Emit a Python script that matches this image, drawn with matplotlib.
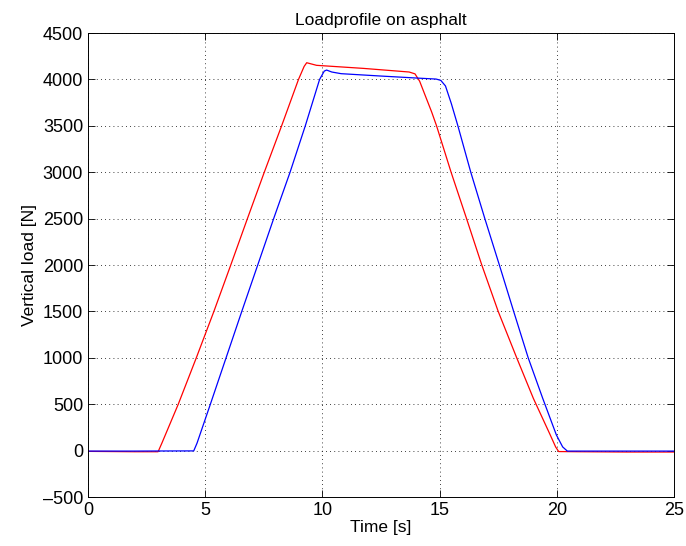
import numpy as np
import matplotlib
matplotlib.use("Agg")
import matplotlib.pyplot as plt

plt.rcParams['font.family'] = ['Liberation Sans', 'DejaVu Sans']

# front wheel (red) load trace, time [s] vs vertical load [N]
t_red = [0.0, 1.0, 2.0, 2.99, 3.15, 3.85, 4.62, 5.37, 6.09, 6.80, 7.52, 8.26, 8.98,
         9.22, 9.33, 9.75, 11.75, 13.70, 13.95, 14.15, 14.35, 14.66, 14.87, 15.49,
         16.15, 16.80, 17.50, 18.29, 19.00, 19.70, 19.95, 20.08, 21.0, 23.0, 25.0]
load_red = [-8, -10, -12, -12, 80, 500, 1000, 1500, 2000, 2500, 3000, 3500, 4000,
            4140, 4180, 4152, 4119, 4080, 4060, 3980, 3850, 3650, 3500, 3000,
            2500, 2000, 1500, 1000, 563, 180, 40, -10, -12, -15, -15]

# rear wheel (blue) load trace
t_blue = [0.0, 1.0, 2.0, 3.0, 4.51, 4.65, 5.22, 5.89, 6.56, 7.24, 7.92, 8.62, 9.27,
          9.88, 10.08, 10.18, 10.40, 10.80, 12.46, 14.02, 14.85, 15.05, 15.25, 15.50,
          15.78, 16.33, 16.93, 17.55, 18.16, 18.78, 19.40, 19.98, 20.25, 20.45,
          21.5, 23.0, 25.0]
load_blue = [-5, -5, -5, -4, -3, 80, 500, 1000, 1500, 2000, 2500, 3000, 3500,
             4000, 4090, 4101, 4080, 4062, 4037, 4015, 4004, 3990, 3930, 3740,
             3500, 3000, 2500, 2000, 1500, 1000, 563, 170, 40, -5,
             -5, -5, -5]

fig = plt.figure(figsize=(6.86, 5.46), dpi=100)
ax = fig.add_axes([0.1283, 0.0897, 0.8542, 0.8498])

ax.plot(t_red, load_red, color='red', lw=0.9)
ax.plot(t_blue, load_blue, color='blue', lw=0.9)

ax.set_xlim(0, 25)
ax.set_ylim(-500, 4500)
ax.set_xticks(np.arange(0, 26, 5))
ax.set_yticks(np.arange(-500, 4501, 500))
ax.set_yticklabels([str(v).replace('-', '\u2013') for v in range(-500, 4501, 500)])

ax.grid(True, color='black', linestyle=(0, (1, 4)), linewidth=0.6)
ax.tick_params(direction='in', length=5, width=0.6, top=True, right=True,
               labelsize=13)
for s in ax.spines.values():
    s.set_linewidth(0.7)

ax.set_title('Loadprofile on asphalt', fontsize=12.5)
ax.set_xlabel('Time [s]', fontsize=12.5, labelpad=1)
ax.set_ylabel('Vertical load [N]', fontsize=12.5)

fig.savefig('out.png', dpi=100)
